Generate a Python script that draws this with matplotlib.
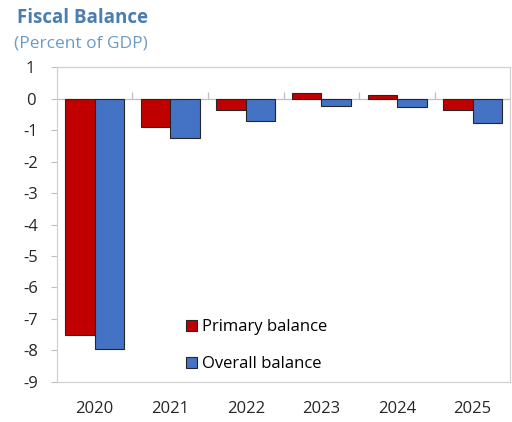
import numpy as np
import matplotlib
matplotlib.use("Agg")
import matplotlib.pyplot as plt

plt.rcParams['font.family'] = ['Open Sans', 'DejaVu Sans']

years = ['2020', '2021', '2022', '2023', '2024', '2025']
primary_balance = [-7.5, -0.9, -0.37, 0.18, 0.12, -0.37]
overall_balance = [-7.95, -1.24, -0.72, -0.22, -0.27, -0.77]

fig = plt.figure(figsize=(5.12, 4.22), dpi=100)
ax = fig.add_axes([0.111, 0.095, 0.886, 0.746])

x = np.arange(len(years))
w = 0.39
ax.bar(x - w / 2, primary_balance, w, color='#C00000', edgecolor='#262626',
       linewidth=0.8, label='Primary balance', zorder=3)
ax.bar(x + w / 2, overall_balance, w, color='#4472C4', edgecolor='#262626',
       linewidth=0.8, label='Overall balance', zorder=3)

# zero line with small category separators
ax.axhline(0, color='#bfbfbf', linewidth=0.9, zorder=2)
ax.vlines(x[1:] - 0.5, 0, 0.22, color='#bfbfbf', linewidth=0.9, zorder=2)

ax.set_xlim(-0.5, len(years) - 0.5)
ax.set_ylim(-9, 1)
ax.set_yticks(range(-9, 2))
ax.set_yticklabels([str(v) for v in range(-9, 2)])
ax.set_xticks(x)
ax.set_xticklabels(years)
ax.tick_params(axis='x', length=0, pad=14, labelsize=12, colors='#262626')
ax.tick_params(axis='y', length=4, width=0.8, color='#bfbfbf', pad=15,
               labelsize=12, labelcolor='#262626')
for lab in ax.get_yticklabels():
    lab.set_horizontalalignment('center')
for s in ax.spines.values():
    s.set_color('#d0d0d0')
    s.set_linewidth(0.9)

ax.legend(loc='lower left', bbox_to_anchor=(0.27, 0.01), frameon=False,
          fontsize=12, handlelength=0.65, handleheight=0.65, handletextpad=0.3,
          labelspacing=1.25, borderaxespad=0)

fig.text(0.034, 0.957, 'Fiscal Balance', fontsize=13.5, fontweight='bold',
         color='#4A7EB0', va='center')
fig.text(0.028, 0.897, '(Percent of GDP)', fontsize=12.5, color='#6A9BC8',
         va='center')

fig.savefig('out.png', dpi=100)
